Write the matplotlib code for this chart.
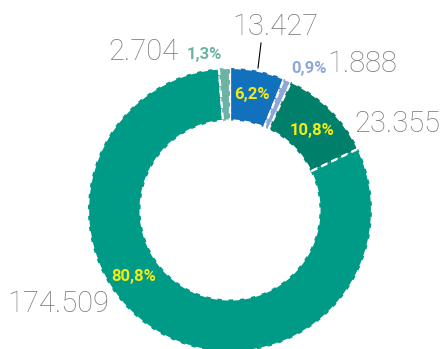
import matplotlib.pyplot as plt

# segments, clockwise from 12 o'clock
values = [13427, 1888, 23355, 174509, 2704]
value_labels = ["13.427", "1.888", "23.355", "174.509", "2.704"]
pct_labels = ["6,2%", "0,9%", "10,8%", "80,8%", "1,3%"]
colors = ["#1271BC", "#8EA7D8", "#007F6B", "#009B86", "#6CB3A6"]
pct_colors = ["#F5EB14", "#8EA7D8", "#F5EB14", "#F5EB14", "#6CB3A6"]

W, H = 441, 349
fig = plt.figure(figsize=(W / 100, H / 100), dpi=100)
ax = fig.add_axes([0, 0, 1, 1])

cx, cy, r = 230, H - 210, 142
ax.pie(values, colors=colors, startangle=90, counterclock=False,
       center=(cx, cy), radius=r,
       wedgeprops=dict(width=r * 0.37, edgecolor="white", linewidth=1.6,
                       linestyle=(0, (3, 2))))
ax.set_xlim(0, W)
ax.set_ylim(0, H)
ax.set_aspect("equal")
ax.axis("off")

# (x, y) positions in pixels from the top-left
value_pos = [(275, 27), (362, 64), (397, 124), (58, 304), (143, 52)]
pct_pos = [(252, 95), (309, 68), (312, 131), (134, 277), (204, 54)]

for lab, (x, y) in zip(value_labels, value_pos):
    ax.text(x, H - y, lab, ha="center", va="center", fontsize=21,
            color="#787878", family="Roboto", fontweight="light")

for lab, col, (x, y) in zip(pct_labels, pct_colors, pct_pos):
    ax.text(x, H - y, lab, ha="center", va="center", fontsize=12,
            color=col, family="Roboto", fontweight="bold")

# leader line for the blue segment
ax.plot([261, 258], [H - 43, H - 68], color="black", linewidth=0.8)

fig.savefig("out.png", dpi=100)
